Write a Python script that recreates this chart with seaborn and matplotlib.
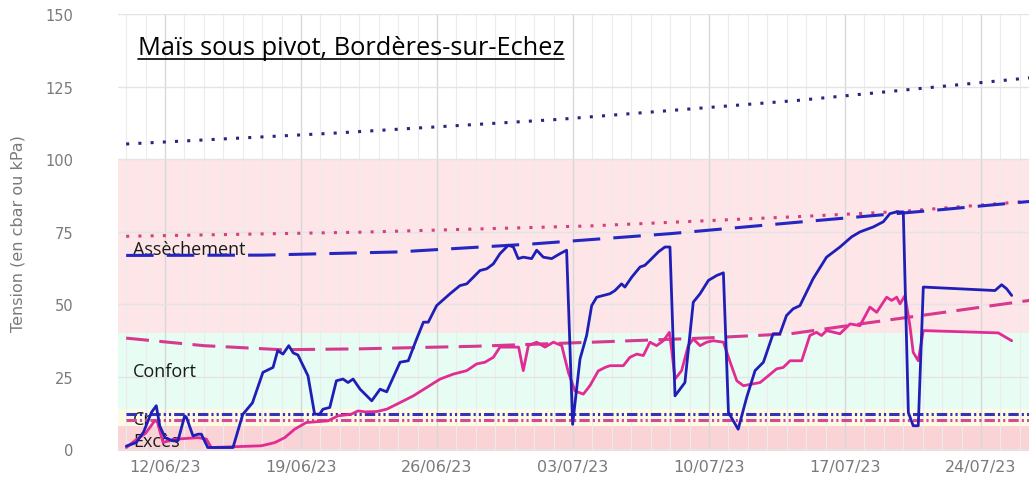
import numpy as np
import pandas as pd
import matplotlib
matplotlib.use("Agg")
import matplotlib.pyplot as plt
import matplotlib.dates as mdates
from matplotlib.lines import Line2D
from matplotlib.transforms import IdentityTransform
import seaborn as sns

# ---------------- data (days relative to 12/06/2023) ----------------
title_text = "Maïs sous pivot, Bordères-sur-Echez"
y_label = "Tension (en cbar ou kPa)"
y_ticks = [0, 25, 50, 75, 100, 125, 150]

zone_names = ["Excès", "Cr", "Confort", "Assèchement"]
zone_low = [-1, 8, 14, 40]
zone_high = [8, 14, 40, 100]
zone_label_y = [3, 10.5, 27, 69]

blue_days = [-1.99, -1.48, -1.1, -0.7, -0.45, -0.27, 0.0, 0.4, 0.67, 1.01, 1.1, 1.44, 1.7, 1.87,
             2.2, 3.5, 4.0, 4.5, 5.04, 5.56, 5.8, 6.07, 6.37, 6.6, 6.84, 7.36, 7.7, 7.96, 8.13,
             8.48, 8.82, 9.16, 9.42, 9.68, 10.04, 10.64, 11.07, 11.41, 12.1, 12.52, 12.95, 13.3,
             13.55, 13.98, 14.67, 15.18, 15.53, 15.87, 16.21, 16.56, 16.9, 17.24, 17.67, 17.93,
             18.18, 18.44, 18.87, 19.13, 19.47, 19.9, 20.33, 20.67, 20.98, 21.36, 21.7, 21.96,
             22.22, 22.56, 22.9, 23.16, 23.5, 23.67, 24.02, 24.45, 24.7, 24.96, 25.39, 25.73,
             25.99, 26.25, 26.76, 27.19, 27.54, 27.97, 28.4, 28.74, 29.0, 29.5, 29.94, 30.37,
             30.8, 31.3, 31.65, 31.99, 32.33, 32.68, 33.36, 34.05, 34.74, 35.34, 35.77, 36.45,
             36.97, 37.31, 37.66, 38.0, 38.26, 38.51, 38.77, 39.03, 42.72, 43.06, 43.32, 43.58]
blue_vals = [1.1, 2.3, 6.0, 12.7, 15.0, 8.0, 4.0, 2.9, 3.0, 11.5, 11.0, 4.6, 5.2, 5.2,
             0.6, 0.6, 12.0, 16.0, 26.5, 28.2, 34.0, 32.8, 35.7, 33.2, 32.5, 25.3, 12.1, 12.1, 13.8,
             14.4, 23.6, 24.2, 23.0, 24.2, 20.7, 16.7, 20.7, 19.8, 30.0, 30.5, 38.0, 43.8,
             43.8, 49.5, 53.6, 56.4, 57.0, 59.3, 61.6, 62.2, 63.9, 67.4, 70.3, 69.7,
             65.7, 66.2, 65.7, 68.6, 66.2, 65.7, 67.4, 68.6, 8.6, 31.1, 39.2, 49.5,
             52.4, 53.0, 53.6, 54.7, 57.0, 55.9, 59.3, 62.8, 63.4, 65.1, 68.0, 69.7,
             69.7, 18.4, 23.0, 50.7, 53.6, 58.2, 59.9, 60.8, 12.7, 6.9, 17.9, 27.1,
             30.0, 39.8, 39.8, 46.1, 48.4, 49.5, 58.8, 66.2, 69.7, 73.2, 74.9, 76.6,
             78.4, 81.2, 81.8, 81.8, 12.7, 8.1, 8.1, 55.9, 54.7, 56.7, 55.3, 53.0]

pink_days = [-1.99, -1.56, -1.0, -0.53, -0.4, -0.1, 0.15, 0.58, 1.7, 2.13, 2.38, 4.96, 5.65,
             6.16, 6.67, 7.27, 8.39, 8.9, 9.59, 9.93, 10.3, 10.9, 11.41, 12.1, 12.78, 13.47,
             14.16, 14.84, 15.53, 16.04, 16.47, 16.9, 17.24, 17.76, 18.2, 18.44, 18.7, 19.13,
             19.56, 19.99, 20.42, 20.76, 21.1, 21.53, 21.87, 22.3, 22.65, 22.9, 23.59, 23.93,
             24.28, 24.62, 24.96, 25.3, 25.65, 25.96, 26.1, 26.25, 26.59, 26.93, 27.19, 27.54,
             27.88, 28.22, 28.74, 29.09, 29.43, 29.77, 30.63, 31.05, 31.48, 31.82, 32.17, 32.77,
             33.19, 33.53, 33.79, 34.05, 34.74, 35.26, 35.77, 36.28, 36.63, 37.14, 37.4, 37.66,
             37.83, 38.09, 38.34, 38.51, 38.77, 39.03, 42.89, 43.58]
pink_vals = [0.6, 2.9, 5.5, 9.8, 9.5, 2.3, 2.9, 3.5, 4.0, 3.5, 0.6, 1.2, 2.3,
             4.0, 6.9, 9.2, 9.8, 11.5, 12.1, 13.2, 12.9, 13.0, 13.8, 16.1, 18.4, 21.3,
             24.2, 25.9, 27.1, 29.4, 30.0, 31.7, 35.2, 35.2, 35.2, 27.1, 35.7, 36.9,
             35.2, 36.9, 35.7, 26.5, 20.1, 19.0, 21.9, 27.0, 28.2, 28.8, 28.8, 31.7,
             32.8, 32.3, 36.9, 35.7, 37.4, 40.3, 33.0, 24.2, 27.1, 35.7, 38.0, 35.7,
             36.9, 37.4, 36.9, 30.0, 23.6, 21.9, 23.0, 25.3, 27.7, 28.2, 30.5, 30.5,
             39.2, 40.3, 39.2, 40.9, 39.8, 43.2, 42.6, 49.0, 47.2, 52.4, 51.3, 52.4,
             50.1, 53.0, 42.6, 33.4, 30.5, 40.9, 40.1, 37.4]

blue_dot_days = [-2, 8.6, 20.3, 32.7, 44.5]
blue_dot_vals = [105.2, 108.9, 113.7, 120.3, 128.0]
pink_dot_days = [-2, 10, 22, 33, 38, 44.5]
pink_dot_vals = [73.4, 74.8, 77.0, 80.3, 82.0, 85.5]
blue_dash_days = [-2, 5, 12, 19, 26, 33, 40, 44.5]
blue_dash_vals = [66.8, 66.9, 68.0, 70.8, 74.3, 78.5, 82.6, 85.4]
pink_dash_days = [-2, 2, 6, 10, 16, 22, 28, 32.2, 36, 40, 44.5]
pink_dash_vals = [38.3, 35.7, 34.3, 34.6, 35.5, 36.9, 38.4, 39.8, 43.4, 47.1, 51.3]
blue_ddot_days = [-2, 44.5]
blue_ddot_vals = [12, 12]
pink_ddot_days = [-2, 44.5]
pink_ddot_vals = [10, 10]

# ---------------- styling ----------------
BASE = pd.Timestamp("2023-06-12")


def to_num(days):
    return mdates.date2num(BASE + pd.to_timedelta(np.asarray(days, float), unit="D"))


sns.set_theme(style="white")
plt.rcParams['font.family'] = ['DejaVu Sans']

W, H = 1029, 481
fig = plt.figure(figsize=(W / 100, H / 100), dpi=100)
L, R, T, B = 118, 1029, 15, 452
ax = fig.add_axes([L / W, 1 - B / H, (R - L) / W, (B - T) / H])
ax.set_facecolor("white")

zone_colors = ["#f9d3d6", "#fdfbe3", "#e7fcf3", "#fde5e8"]
for lo, hi, c in zip(zone_low, zone_high, zone_colors):
    ax.axhspan(lo, hi, color=c, lw=0, zorder=0.1)

ax.set_xlim(to_num([-2.42])[0], to_num([44.47])[0])
ax.set_ylim(-0.6, 150)

ax.xaxis.set_major_locator(mdates.WeekdayLocator(byweekday=mdates.MO))
ax.xaxis.set_minor_locator(mdates.DayLocator())
ax.xaxis.set_major_formatter(mdates.DateFormatter("%d/%m/%y"))
ax.set_yticks(y_ticks)
ax.grid(which="major", axis="x", color="#d8d8d8", lw=1.0, zorder=0.5)
ax.grid(which="minor", axis="x", color="#ececec", lw=0.8, zorder=0.5)
ax.grid(which="major", axis="y", color="#e4e4e4", lw=1.0, zorder=0.5)
ax.set_axisbelow(True)
for s in ax.spines.values():
    s.set_visible(False)
ax.tick_params(axis="y", length=0, pad=32, labelsize=10.5, labelcolor="#7a7a7a")
ax.tick_params(axis="x", which="both", length=0, pad=6, labelsize=11.5, labelcolor="#7a7a7a")

# zone labels (behind the curves)
for name, yv in zip(zone_names, zone_label_y):
    ax.text(to_num([-1.65])[0], yv, name, fontsize=13, family=["Open Sans", "DejaVu Sans"],
            color="#1a1a1a", va="center", ha="left", zorder=1.5)

lw_thr = 2.2
ddot = (0, (3.4, 1.0, 0.7, 1.0, 0.7, 1.0))
series = [
    (blue_dot_days, blue_dot_vals, "#26267c", (0, (1, 3))),
    (pink_dot_days, pink_dot_vals, "#d3407f", (0, (1, 3))),
    (blue_ddot_days, blue_ddot_vals, "#3434b8", ddot),
    (pink_ddot_days, pink_ddot_vals, "#d84899", ddot),
    (pink_dash_days, pink_dash_vals, "#d63a8e", (0, (7.5, 3.4))),
    (blue_dash_days, blue_dash_vals, "#2626c2", (0, (9, 4.3))),
]
for d, v, c, ls in series:
    sns.lineplot(x=to_num(d), y=v, ax=ax, color=c, lw=lw_thr, linestyle=ls,
                 estimator=None, sort=False, zorder=2)

sns.lineplot(x=to_num(pink_days), y=pink_vals, ax=ax, color="#e22c93", lw=2.0,
             estimator=None, sort=False, zorder=3)
sns.lineplot(x=to_num(blue_days), y=blue_vals, ax=ax, color="#1f1fb8", lw=2.0,
             estimator=None, sort=False, zorder=3)

ax.set_xlabel("")
ax.set_ylabel(y_label, fontsize=11.5, color="#7a7a7a")
ax.yaxis.set_label_coords(-0.102, 0.5)

# title with underline
t = fig.text(138 / W, 1 - 55 / H, title_text, fontsize=18.3, family=["Open Sans", "DejaVu Sans"],
             color="black", ha="left", va="baseline")
fig.canvas.draw()
bb = t.get_window_extent()
uy = (H - 55) - 5
fig.add_artist(Line2D([bb.x0, bb.x1], [uy, uy], transform=IdentityTransform(),
                      color="black", lw=1.2))

fig.savefig("out.png", dpi=100)
